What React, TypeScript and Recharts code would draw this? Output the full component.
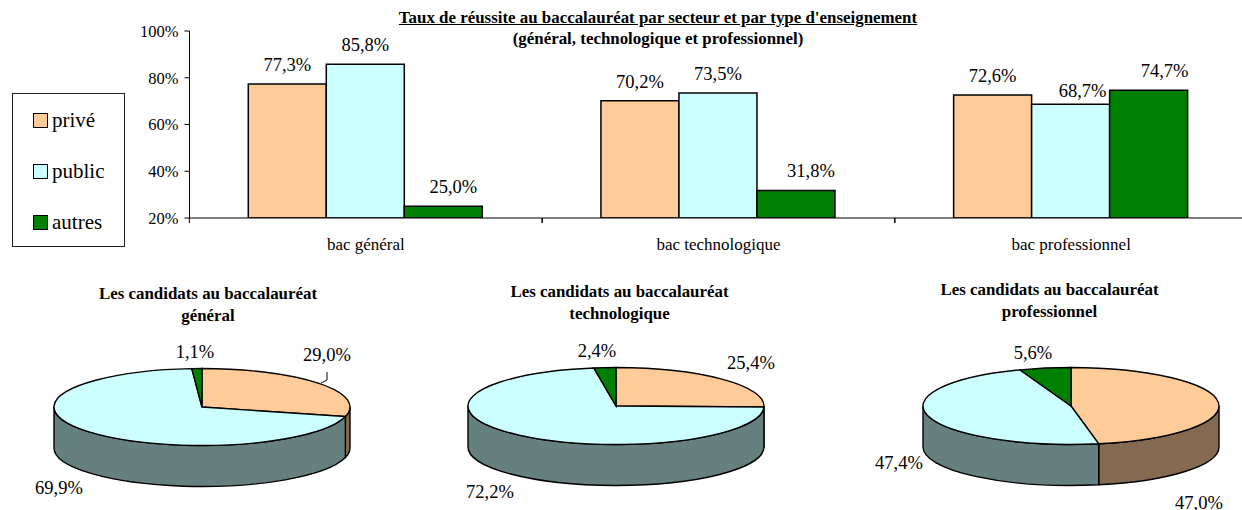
import React from 'react';
import { BarChart, Bar, XAxis, YAxis, Legend, LabelList, PieChart, Pie } from 'recharts';

const categories = ['bac général', 'bac technologique', 'bac professionnel'];
const sectors = ['privé', 'public', 'autres'];
const priveRates = [77.3, 70.2, 72.6];
const publicRates = [85.8, 73.5, 68.7];
const autresRates = [25.0, 31.8, 74.7];
const yTicks = [20, 40, 60, 80, 100];

const generalShares = [29.0, 69.9, 1.1];
const technoShares = [25.4, 72.2, 2.4];
const proShares = [47.0, 47.4, 5.6];

const COLORS = ['#FFCC99', '#CCFFFF', '#008000'];
const SIDE_COLORS = ['#846A50', '#668080', '#004000'];
const FONT = '"Liberation Serif", "Times New Roman", serif';

const barData = categories.map((name, i) => ({
  name,
  prive: priveRates[i],
  public: publicRates[i],
  autres: autresRates[i],
}));

const fmt = (v: number) => v.toFixed(1).replace('.', ',') + '%';

// Excel moved some labels by hand, so they do not all sit centred over their bar
const makeBarLabel = (nudges: number[][]) => (props: any) => {
  const { x, y, width, value, index } = props;
  const [dx, dy] = nudges[index];
  return (
    <text x={x + width / 2 + dx} y={y - 13 + dy} textAnchor="middle" fontSize={18.5} fontFamily={FONT} fill="#000">
      {fmt(value)}
    </text>
  );
};

const HALF_BAND = 176.5;

const CategoryTick = (props: any) => {
  const { x, y, payload } = props;
  return (
    <g>
      <line x1={x - HALF_BAND} x2={x - HALF_BAND} y1={218} y2={223} stroke="#000" />
      <line x1={x + HALF_BAND} x2={x + HALF_BAND} y1={218} y2={223} stroke="#000" />
      <text x={x} y={y + 24} textAnchor="middle" fontSize={17} fontFamily={FONT} fill="#000">
        {payload.value}
      </text>
    </g>
  );
};

const SectorLegend = ({ payload }: any) => (
  <div style={{ width: 111, height: 152, border: '1px solid #222', background: '#fff', boxSizing: 'content-box', fontFamily: FONT, fontSize: 21, color: '#000', position: 'relative' }}>
    {sectors.map((name, i) => {
      const entry = payload?.find((p: any) => p.value === name);
      return (
        <div key={name} style={{ position: 'absolute', left: 20, top: 18 + i * 51, height: 16, display: 'flex', alignItems: 'center' }}>
          <span style={{ width: 13, height: 13, border: '1px solid #000', background: entry?.color ?? COLORS[i], marginRight: 4, flex: 'none' }} />
          <span>{name}</span>
        </div>
      );
    })}
  </div>
);

const TILT = 0.26;
const DEPTH = 41;

const pointAt = (cx: number, cy: number, rx: number, deg: number) => {
  const r = (deg * Math.PI) / 180;
  return [cx + rx * Math.cos(r), cy - rx * TILT * Math.sin(r)];
};

// flattened pie: the library gives the angles, this only draws them as an ellipse with a wall
const Slice3D = (props: any) => {
  const { cx, cy, outerRadius: rx, startAngle, endAngle, fill } = props;
  const ry = rx * TILT;
  const [sx, sy] = pointAt(cx, cy, rx, startAngle);
  const [ex, ey] = pointAt(cx, cy, rx, endAngle);
  const large = Math.abs(startAngle - endAngle) > 180 ? 1 : 0;
  const wallFrom = Math.min(startAngle, 0);
  const wallTo = Math.max(endAngle, -180);
  let wall = null;
  if (wallFrom > wallTo) {
    const [ax, ay] = pointAt(cx, cy, rx, wallFrom);
    const [bx, by] = pointAt(cx, cy, rx, wallTo);
    wall = (
      <path
        d={`M${ax},${ay} A${rx},${ry} 0 0 1 ${bx},${by} L${bx},${by + DEPTH} A${rx},${ry} 0 0 0 ${ax},${ay + DEPTH} Z`}
        fill={SIDE_COLORS[COLORS.indexOf(fill)]}
        stroke="#000"
        strokeWidth={1.4}
      />
    );
  }
  return (
    <g>
      {wall}
      <path
        d={`M${cx},${cy} L${sx},${sy} A${rx},${ry} 0 ${large} 1 ${ex},${ey} Z`}
        fill={fill}
        stroke="#000"
        strokeWidth={1.4}
      />
    </g>
  );
};

const pies = [
  {
    title: ['Les candidats au baccalauréat', 'général'],
    values: generalShares,
    left: 0,
    top: 283,
    titleX: 208,
    cx: 202,
    cy: 67,
    labelAt: [[125, -52], [-143, 81], [-7, -55]],
    leader: 'M125,-35 L125,-27 L119,-24',
  },
  {
    title: ['Les candidats au baccalauréat', 'technologique'],
    values: technoShares,
    left: 414,
    top: 281,
    titleX: 205.5,
    cx: 202,
    cy: 66,
    labelAt: [[135, -43], [-126, 86], [-19, -55]],
    leader: '',
  },
  {
    title: ['Les candidats au baccalauréat', 'professionnel'],
    values: proShares,
    left: 828,
    top: 279,
    titleX: 221.5,
    cx: 243,
    cy: 66,
    labelAt: [[128, 97], [-172, 57], [-38, -53]],
    leader: '',
  },
];

const makePieLabel = (labelAt: number[][], leader: string) => (props: any) => {
  const { cx, cy, value, index } = props;
  const [dx, dy] = labelAt[index];
  return (
    <g>
      {index === 0 && leader ? <path d={leader} transform={`translate(${cx},${cy})`} fill="none" stroke="#000" /> : null}
      <text x={cx + dx} y={cy + dy + 6} textAnchor="middle" fontSize={18.5} fontFamily={FONT} fill="#000">
        {fmt(value)}
      </text>
    </g>
  );
};

export default function App() {
  return (
    <div style={{ position: 'absolute', left: 0, top: 0, width: 1242, height: 510, overflow: 'hidden', background: '#fff' }}>
      <div style={{ position: 'absolute', left: 0, top: 0 }}>
        <BarChart
          width={1260}
          height={262}
          data={barData}
          margin={{ top: 31, right: 12.5, bottom: 0, left: 0 }}
          barCategoryGap="16.67%"
          barGap={0}
        >
          <YAxis
            width={189.5}
            domain={[20, 100]}
            ticks={yTicks}
            allowDataOverflow
            tickFormatter={(v: number) => `${v}%`}
            tick={{ fontSize: 16.5, fontFamily: FONT, fill: '#000' }}
            tickSize={5}
            tickMargin={6}
            stroke="#000"
          />
          <XAxis dataKey="name" height={44} tickLine={false} tick={<CategoryTick />} stroke="#000" />
          <Legend
            layout="horizontal"
            verticalAlign="middle"
            align="center"
            content={<SectorLegend />}
            wrapperStyle={{ position: 'absolute', left: 12, top: 93, width: 113, bottom: 'auto' }}
          />
          <Bar dataKey="prive" name="privé" fill={COLORS[0]} stroke="#000" strokeWidth={1.5} isAnimationActive={false}>
            <LabelList dataKey="prive" content={makeBarLabel([[0, 0], [0, 0], [0, 0]])} />
          </Bar>
          <Bar dataKey="public" name="public" fill={COLORS[1]} stroke="#000" strokeWidth={1.5} isAnimationActive={false}>
            <LabelList dataKey="public" content={makeBarLabel([[0, 0], [0, 0], [12, 6]])} />
          </Bar>
          <Bar dataKey="autres" name="autres" fill={COLORS[2]} stroke="#000" strokeWidth={1.5} isAnimationActive={false}>
            <LabelList dataKey="autres" content={makeBarLabel([[10, 0], [15, 0], [16, 0]])} />
          </Bar>
        </BarChart>
      </div>

      <div style={{ position: 'absolute', left: 0, top: 7, width: 1316, textAlign: 'center', fontFamily: FONT, fontWeight: 'bold', fontSize: 16.9, lineHeight: '21px', color: '#000' }}>
        <div style={{ textDecoration: 'underline' }}>Taux de réussite au baccalauréat par secteur et par type d'enseignement</div>
        <div>(général, technologique et professionnel)</div>
      </div>

      {pies.map((p) => (
        <React.Fragment key={p.title[1]}>
          <div style={{ position: 'absolute', left: p.left + p.titleX - 150, top: p.top, width: 300, textAlign: 'center', fontFamily: FONT, fontWeight: 'bold', fontSize: 16.9, lineHeight: '21.5px', color: '#000' }}>
            {p.title.map((t) => <div key={t}>{t}</div>)}
          </div>
          <div style={{ position: 'absolute', left: p.left, top: 340 }}>
            <PieChart width={414} height={180} margin={{ top: 0, right: 0, bottom: 0, left: 0 }}>
              <Pie
                data={sectors.map((name, i) => ({ name, value: p.values[i], fill: COLORS[i] }))}
                dataKey="value"
                cx={p.cx}
                cy={p.cy}
                outerRadius={148}
                startAngle={90}
                endAngle={-270}
                shape={<Slice3D />}
                label={makePieLabel(p.labelAt, p.leader)}
                labelLine={false}
                isAnimationActive={false}
              />
            </PieChart>
          </div>
        </React.Fragment>
      ))}
    </div>
  );
}
